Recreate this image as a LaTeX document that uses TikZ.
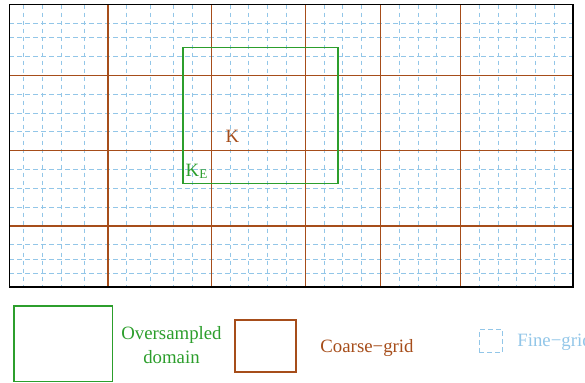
\documentclass[tikz,border=0pt]{standalone}
\usepackage{fontspec}
\setmainfont{Liberation Serif}
\usepackage{tikz}
\usetikzlibrary{positioning}
\definecolor{coarsebrown}{RGB}{166,77,26}
\definecolor{oversgreen}{RGB}{44,158,44}
\definecolor{finesky}{RGB}{146,198,232}
\tikzset{
  fineline/.style={finesky, line width=0.5pt, dash pattern=on 2.4pt off 1.6pt},
  coarseline/.style={coarsebrown, line width=0.75pt},
  oversampled/.style={oversgreen, line width=0.7pt},
  legendbox/.style={inner sep=0pt, outer sep=0pt}
}
\begin{document}
\begin{tikzpicture}[x=0.5pt, y=-0.5pt, every node/.style={align=center, font=\fontsize{9.4}{11.8}\selectfont}]
  \useasboundingbox (0,0) rectangle (585,383);
  % Fine grid
  \foreach \gx in {23.3,42.3,61,84.3,108,126.7,150.3,173.7,192.7,211.3,230,248.7,267.7,286.3,305.3,324,342.7,361.7,380.3,399.3,418,436.7,460.3,479,498,516.7,535.3,554.3}
    \draw[fineline] (\gx,4.7) -- (\gx,287.3);
  \foreach \gy in {23.7,37.7,56.7,75.3,94.3,113.3,132,150.7,169.3,188.3,207.3,226,244.7,259.3,273.3}
    \draw[fineline] (9.3,\gy) -- (572.7,\gy);
  % Coarse grid
  \foreach \gx in {108,211.3,305.3,380.3,460.3}
    \draw[coarseline] (\gx,4.7) -- (\gx,287.3);
  \foreach \gy in {75.3,150.7,226}
    \draw[coarseline] (9.3,\gy) -- (572.7,\gy);
  % Domain border
  \draw[black, line width=0.8pt] (9.3,4.7) rectangle (572.7,287.3);
  % Oversampled domain
  \draw[oversampled] (183,47.3) rectangle (338,183.3);
  \node[text=coarsebrown] (elem) at (232.5,136) {K};
  \node[text=oversgreen] (elemext) at (197,171.5) {K\textsubscript{E}};

  % Legend
  \node[legendbox, draw=oversgreen, line width=0.7pt, minimum width=49.3pt, minimum height=37.7pt] (overbox) at (63.3,343.7) {};
  \node[text=oversgreen] (overtext) at (171.5,345) {Oversampled\\domain};
  \node[legendbox, draw=coarsebrown, line width=0.7pt, minimum width=30.5pt, minimum height=26pt] (coarsebox) at (265.5,346) {};
  \node[text=coarsebrown] (coarsetext) at (367,348.3) {Coarse−grid};
  \node[legendbox, draw=finesky, line width=0.5pt, dash pattern=on 2.4pt off 1.6pt, minimum width=11.8pt, minimum height=11.3pt] (finebox) at (490.8,341) {};
  \node[text=finesky] (finetext) at (554.5,341.7) {Fine−grid};
\end{tikzpicture}
\end{document}
